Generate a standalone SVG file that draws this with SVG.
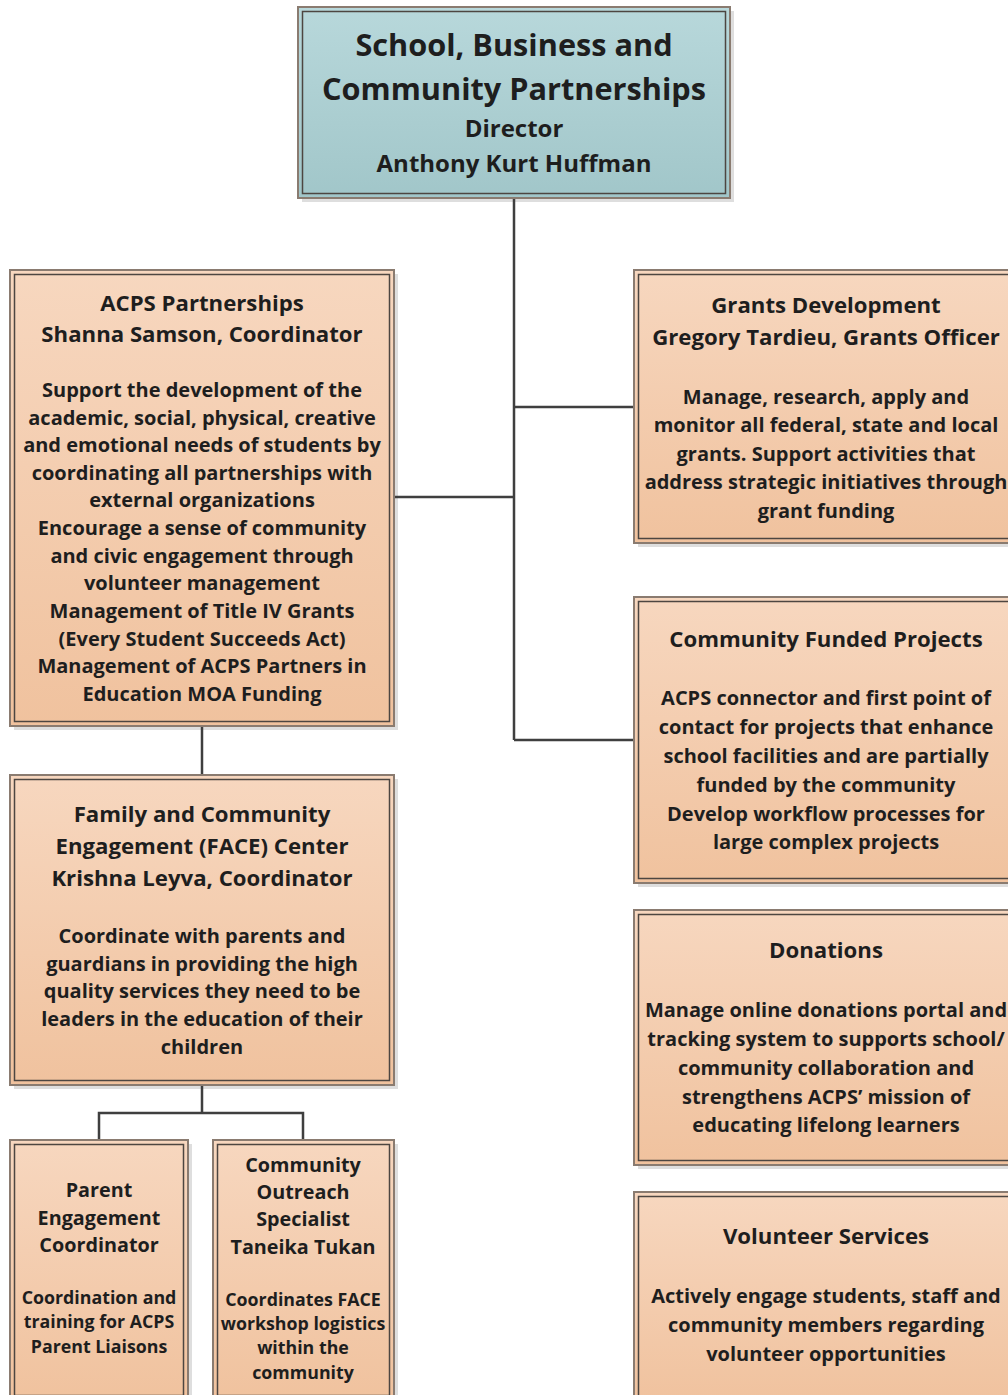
<svg xmlns="http://www.w3.org/2000/svg" width="1008" height="1395" viewBox="0 0 1008 1395">
<defs>
<linearGradient id="peach" x1="0" y1="0" x2="0" y2="1"><stop offset="0" stop-color="#f7d7bf"/><stop offset="1" stop-color="#f0c29e"/></linearGradient>
<linearGradient id="teal" x1="0" y1="0" x2="0" y2="1"><stop offset="0" stop-color="#b8d8db"/><stop offset="1" stop-color="#a1c6c9"/></linearGradient>
<style>
.sh{fill:#dedede}
.out{stroke:#8a7b70;stroke-width:2}
.in{fill:none;stroke:#4d4641;stroke-width:1.5}
.p{fill:url(#peach)}
.t{fill:url(#teal)}
text{font-family:"Open Sans","Noto Sans","Liberation Sans",sans-serif;font-weight:700;fill:#1e1e1e;text-anchor:middle}
.h1{font-size:30.7px}
.h2{font-size:24px}
.h3{font-size:22.2px}
.h4{font-size:19.8px}
.b{font-size:20px}
.s{font-size:17.8px}
.c{fill:none;stroke:#3f3f3f;stroke-width:2.5}
</style>
</defs>
<rect width="1008" height="1395" fill="#fff"/>
<g id="director">
<rect class="sh" x="302" y="11" width="432" height="191"/>
<rect class="t out" x="298" y="7" width="432" height="191"/>
<rect class="in" x="302.5" y="11.5" width="423" height="182"/>
<text class="h1" x="514" y="56">School, Business and</text>
<text class="h1" x="514" y="100">Community Partnerships</text>
<text class="h2" x="514" y="137">Director</text>
<text class="h2" x="514" y="172">Anthony Kurt Huffman</text>
</g>
<g id="acps">
<rect class="sh" x="14" y="274" width="384" height="456"/>
<rect class="p out" x="10" y="270" width="384" height="456"/>
<rect class="in" x="14.5" y="274.5" width="375" height="447"/>
<text class="h3" x="202" y="311">ACPS Partnerships</text>
<text class="h3" x="202" y="342">Shanna Samson, Coordinator</text>
<text class="b" x="202" y="397">Support the development of the</text>
<text class="b" x="202" y="425">academic, social, physical, creative</text>
<text class="b" x="202" y="452">and emotional needs of students by</text>
<text class="b" x="202" y="480">coordinating all partnerships with</text>
<text class="b" x="202" y="507">external organizations</text>
<text class="b" x="202" y="535">Encourage a sense of community</text>
<text class="b" x="202" y="563">and civic engagement through</text>
<text class="b" x="202" y="590">volunteer management</text>
<text class="b" x="202" y="618">Management of Title IV Grants</text>
<text class="b" x="202" y="646">(Every Student Succeeds Act)</text>
<text class="b" x="202" y="673">Management of ACPS Partners in</text>
<text class="b" x="202" y="701">Education MOA Funding</text>
</g>
<g id="face">
<rect class="sh" x="14" y="779" width="384" height="310"/>
<rect class="p out" x="10" y="775" width="384" height="310"/>
<rect class="in" x="14.5" y="779.5" width="375" height="301"/>
<text class="h3" x="202" y="822">Family and Community</text>
<text class="h3" x="202" y="854">Engagement (FACE) Center</text>
<text class="h3" x="202" y="886">Krishna Leyva, Coordinator</text>
<text class="b" x="202" y="943">Coordinate with parents and</text>
<text class="b" x="202" y="971">guardians in providing the high</text>
<text class="b" x="202" y="998">quality services they need to be</text>
<text class="b" x="202" y="1026">leaders in the education of their</text>
<text class="b" x="202" y="1054">children</text>
</g>
<g id="parent">
<rect class="sh" x="14" y="1144" width="178" height="260"/>
<rect class="p out" x="10" y="1140" width="178" height="260"/>
<rect class="in" x="14.5" y="1144.5" width="169" height="251"/>
<text class="h4" x="99" y="1197">Parent</text>
<text class="h4" x="99" y="1225">Engagement</text>
<text class="h4" x="99" y="1252">Coordinator</text>
<text class="s" x="99" y="1304">Coordination and</text>
<text class="s" x="99" y="1328">training for ACPS</text>
<text class="s" x="99" y="1353">Parent Liaisons</text>
</g>
<g id="outreach">
<rect class="sh" x="217" y="1144" width="181" height="260"/>
<rect class="p out" x="213" y="1140" width="181" height="260"/>
<rect class="in" x="217.5" y="1144.5" width="172" height="251"/>
<text class="h4" x="303" y="1172">Community</text>
<text class="h4" x="303" y="1199">Outreach</text>
<text class="h4" x="303" y="1226">Specialist</text>
<text class="h4" x="303" y="1254">Taneika Tukan</text>
<text class="s" x="303" y="1306">Coordinates FACE</text>
<text class="s" x="303" y="1330">workshop logistics</text>
<text class="s" x="303" y="1354">within the</text>
<text class="s" x="303" y="1379">community</text>
</g>
<g id="grants">
<rect class="sh" x="638" y="274" width="384" height="273"/>
<rect class="p out" x="634" y="270" width="384" height="273"/>
<rect class="in" x="638.5" y="274.5" width="375" height="264"/>
<text class="h3" x="826" y="313">Grants Development</text>
<text class="h3" x="826" y="345">Gregory Tardieu, Grants Officer</text>
<text class="b" x="826" y="404">Manage, research, apply and</text>
<text class="b" x="826" y="432">monitor all federal, state and local</text>
<text class="b" x="826" y="461">grants. Support activities that</text>
<text class="b" x="826" y="489">address strategic initiatives through</text>
<text class="b" x="826" y="518">grant funding</text>
</g>
<g id="cfp">
<rect class="sh" x="638" y="601" width="384" height="286"/>
<rect class="p out" x="634" y="597" width="384" height="286"/>
<rect class="in" x="638.5" y="601.5" width="375" height="277"/>
<text class="h3" x="826" y="647">Community Funded Projects</text>
<text class="b" x="826" y="705">ACPS connector and first point of</text>
<text class="b" x="826" y="734">contact for projects that enhance</text>
<text class="b" x="826" y="763">school facilities and are partially</text>
<text class="b" x="826" y="792">funded by the community</text>
<text class="b" x="826" y="821">Develop workflow processes for</text>
<text class="b" x="826" y="849">large complex projects</text>
</g>
<g id="donations">
<rect class="sh" x="638" y="914" width="384" height="255"/>
<rect class="p out" x="634" y="910" width="384" height="255"/>
<rect class="in" x="638.5" y="914.5" width="375" height="246"/>
<text class="h3" x="826" y="958">Donations</text>
<text class="b" x="826" y="1017">Manage online donations portal and</text>
<text class="b" x="826" y="1046">tracking system to supports school/</text>
<text class="b" x="826" y="1075">community collaboration and</text>
<text class="b" x="826" y="1104">strengthens ACPS’ mission of</text>
<text class="b" x="826" y="1132">educating lifelong learners</text>
</g>
<g id="volunteer">
<rect class="sh" x="638" y="1196" width="384" height="210"/>
<rect class="p out" x="634" y="1192" width="384" height="210"/>
<rect class="in" x="638.5" y="1196.5" width="375" height="201"/>
<text class="h3" x="826" y="1244">Volunteer Services</text>
<text class="b" x="826" y="1303">Actively engage students, staff and</text>
<text class="b" x="826" y="1332">community members regarding</text>
<text class="b" x="826" y="1361">volunteer opportunities</text>
</g>
<g id="connectors">
<path class="c" d="M514 199V740M395 497H514M514 407H633M514 740H633"/>
<path class="c" d="M202 727V774"/>
<path class="c" d="M202 1086V1113M99 1139V1113H303V1139"/>
</g>
</svg>
